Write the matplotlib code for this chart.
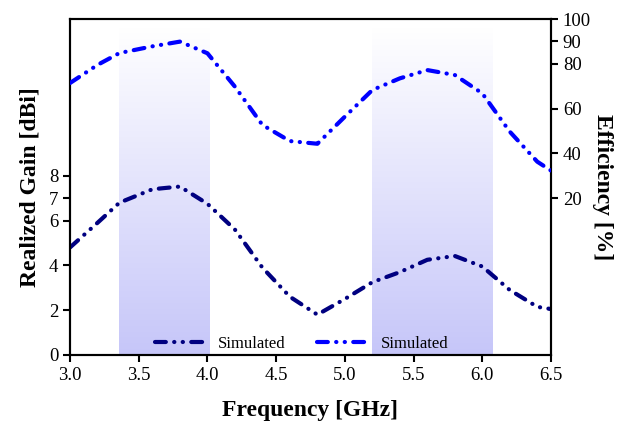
import numpy as np
import matplotlib
matplotlib.use("Agg")
import matplotlib.pyplot as plt
from matplotlib.colors import LinearSegmentedColormap

plt.rcParams['font.family'] = ['Liberation Serif', 'DejaVu Serif']

# data
freq = [3.0, 3.2, 3.36, 3.6, 3.8, 4.0, 4.2, 4.4, 4.6, 4.8, 5.0, 5.2, 5.4, 5.6, 5.8, 6.0, 6.2, 6.4, 6.5]
gain = [4.8, 5.9, 6.8, 7.4, 7.52, 6.75, 5.6, 3.9, 2.6, 1.8, 2.5, 3.25, 3.7, 4.25, 4.42, 3.95, 2.9, 2.15, 2.05]
eff = [71.4, 79.5, 84.8, 87.8, 89.9, 84.7, 69.8, 52.7, 45.5, 44.3, 56.4, 68.3, 73.5, 77.2, 75.0, 66.8, 49.7, 36.3, 32.3]
bands = [(3.36, 4.02), (5.2, 6.08)]

gain_ticks = [0, 2, 4, 6, 7, 8]
eff_ticks = [20, 40, 60, 80, 90, 100]
freq_ticks = [3.0, 3.5, 4.0, 4.5, 5.0, 5.5, 6.0, 6.5]

# dash - dot - dot, round caps eat into the gaps
dash = (0, (2.6, 2.0, 0.05, 2.0, 0.05, 2.0))

fig = plt.figure(figsize=(6.21, 4.28), dpi=100)
ax = fig.add_axes([0.1127, 0.1706, 0.7746, 0.785])
ax2 = ax.twinx()

# gradient shaded bands
cmap = LinearSegmentedColormap.from_list('band', ['#ffffff', '#c6c6f9'])
grad = np.linspace(0, 1, 256).reshape(-1, 1)
for x0, x1 in bands:
    ax.imshow(grad, cmap=cmap, aspect='auto', extent=[x0, x1, 0, 14.6],
              origin='upper', zorder=0)

l1, = ax.plot(freq, gain, color='#000080', lw=3, linestyle=dash,
              dash_capstyle='round', label='Simulated', zorder=3)
l2, = ax2.plot(freq, eff, color='#0000ff', lw=3, linestyle=dash,
               dash_capstyle='round', label='Simulated', zorder=3)

ax.set_xlim(3.0, 6.5)
ax.set_ylim(0, 15)
ax2.set_ylim(-50, 100)
ax.set_xticks(freq_ticks)
ax.set_xticklabels([f'{v:.1f}' for v in freq_ticks])
ax.set_yticks(gain_ticks)
ax2.set_yticks(eff_ticks)

for a in (ax, ax2):
    for s in a.spines.values():
        s.set_linewidth(1.5)
    a.tick_params(labelsize=13.5, width=1.5, length=5, direction='out')

ax.set_xlabel('Frequency [GHz]', fontsize=17, fontweight='bold', labelpad=12)
ax.set_ylabel('Realized Gain [dBi]', fontsize=17, fontweight='bold', labelpad=6)
ax2.set_ylabel('Efficiency [%]', fontsize=17, fontweight='bold', rotation=-90,
               labelpad=16)

ax.legend([l1, l2], ['Simulated', 'Simulated'], loc='lower center', ncol=2,
          frameon=False, fontsize=12, handlelength=2.9, handletextpad=0.9,
          columnspacing=1.9, borderaxespad=0.0, bbox_to_anchor=(0.481, -0.01))

fig.savefig('out.png', dpi=100)
